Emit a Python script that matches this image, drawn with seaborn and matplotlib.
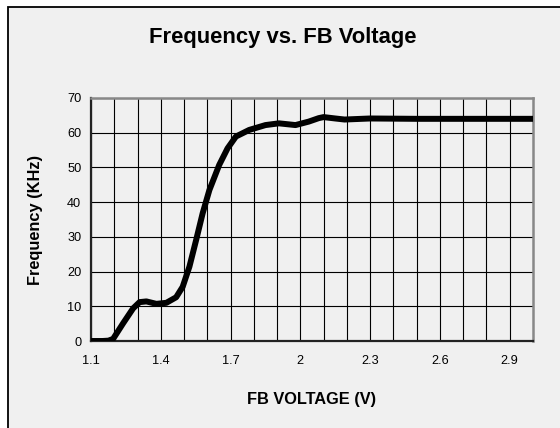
import seaborn as sns
import matplotlib.pyplot as plt
import matplotlib.patches as patches
import numpy as np
import pandas as pd

# values
fb_voltage = [1.10, 1.15, 1.175, 1.195, 1.238, 1.281, 1.309, 1.338, 1.381, 1.424, 1.466,
              1.494, 1.523, 1.552, 1.58, 1.609, 1.651, 1.687, 1.723, 1.78, 1.85, 1.908,
              1.979, 2.036, 2.079, 2.10, 2.15, 2.19, 2.30, 2.50, 2.70, 3.00]
frequency = [0, 0, 0.1, 0.6, 5.1, 9.4, 11.2, 11.4, 10.7, 11.0, 12.6,
             15.6, 21.4, 29.1, 36.8, 43.5, 50.7, 55.5, 58.9, 60.8, 62.2, 62.7,
             62.2, 63.2, 64.2, 64.5, 64.1, 63.8, 64.1, 64.0, 64.0, 64.0]
x_ticks = [1.1, 1.4, 1.7, 2.0, 2.3, 2.6, 2.9]
x_tick_labels = ['1.1', '1.4', '1.7', '2', '2.3', '2.6', '2.9']
y_ticks = [0, 10, 20, 30, 40, 50, 60, 70]

df = pd.DataFrame({'FB VOLTAGE (V)': fb_voltage, 'Frequency (KHz)': frequency})

sns.set_style('white', {'text.color': 'black', 'axes.labelcolor': 'black',
                        'xtick.color': 'black', 'ytick.color': 'black'})
plt.rcParams['font.family'] = ['Liberation Sans', 'DejaVu Sans']

bg = '#f0f0f0'
fig = plt.figure(figsize=(5.6, 4.28), dpi=100)
fig.patch.set_facecolor('white')
# panel background with the black frame on left / top
fig.patches.append(patches.Rectangle((8 / 560, -0.05), 1.1, (428 - 7) / 428 + 0.05,
                                     transform=fig.transFigure, facecolor=bg,
                                     edgecolor='black', linewidth=1.3, zorder=-10))

ax = fig.add_axes([91 / 560, (428 - 341) / 428, (533 - 91) / 560, (341 - 98) / 428])
ax.set_facecolor(bg)

sns.lineplot(data=df, x='FB VOLTAGE (V)', y='Frequency (KHz)', ax=ax,
             color='black', linewidth=4.3, zorder=5)
ax.lines[0].set_solid_joinstyle('round')
ax.lines[0].set_solid_capstyle('round')

ax.set_xlim(1.1, 3.0)
ax.set_ylim(0, 70)
ax.set_xticks(x_ticks)
ax.set_xticklabels(x_tick_labels)
ax.set_xticks(np.arange(1.2, 3.0, 0.1), minor=True)
ax.set_yticks(y_ticks)
ax.grid(True, which='both', color='black', linewidth=0.8)
ax.tick_params(which='both', length=0, labelsize=9.2, colors='black')
ax.tick_params(axis='x', pad=10)
ax.tick_params(axis='y', pad=7)

for side in ['left', 'bottom']:
    ax.spines[side].set_color('#222222')
    ax.spines[side].set_linewidth(1.6)
for side in ['top', 'right']:
    ax.spines[side].set_color('#888888')
    ax.spines[side].set_linewidth(1.8)

ax.set_xlabel('FB VOLTAGE (V)', fontsize=11.8, fontweight='bold', labelpad=18)
ax.set_ylabel('Frequency (KHz)', fontsize=11.8, fontweight='bold', labelpad=17)
fig.text(283 / 560, 1 - 37 / 428, 'Frequency vs. FB Voltage', ha='center', va='center',
         fontsize=15.8, fontweight='bold')

fig.savefig('out.png', dpi=100, facecolor=fig.get_facecolor())
